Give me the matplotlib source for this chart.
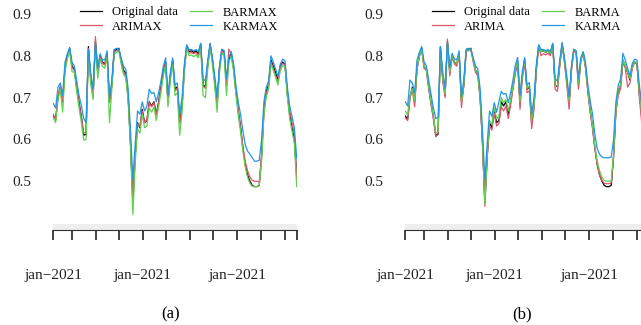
import matplotlib
matplotlib.use("Agg")
import matplotlib.pyplot as plt
from matplotlib.patches import Rectangle

plt.rcParams["font.family"] = ["Liberation Serif", "DejaVu Serif"]

# observed series (shared by both panels)
original = [
    0.656, 0.648, 0.700, 0.725, 0.690, 0.770, 0.800, 0.818, 0.775, 0.768,
    0.725, 0.688, 0.655, 0.610, 0.612, 0.822, 0.745, 0.705, 0.835, 0.760,
    0.800, 0.785, 0.780, 0.805, 0.690, 0.730, 0.812, 0.815, 0.818, 0.790,
    0.766, 0.758, 0.700, 0.590, 0.448, 0.560, 0.640, 0.628, 0.672, 0.640,
    0.645, 0.690, 0.680, 0.690, 0.660, 0.690, 0.725, 0.762, 0.785, 0.690,
    0.752, 0.790, 0.720, 0.726, 0.640, 0.680, 0.770, 0.825, 0.810, 0.812,
    0.808, 0.812, 0.805, 0.828, 0.730, 0.726, 0.780, 0.828, 0.790, 0.740,
    0.688, 0.770, 0.815, 0.810, 0.730, 0.790, 0.808, 0.775, 0.718, 0.670,
    0.630, 0.580, 0.540, 0.515, 0.500, 0.490, 0.487, 0.487, 0.490, 0.560,
    0.670, 0.715, 0.730, 0.790, 0.775, 0.760, 0.742, 0.775, 0.785, 0.780,
    0.710, 0.660, 0.630, 0.600, 0.510,
]

# panel (a) fits
arimax = [
    0.660, 0.645, 0.705, 0.728, 0.692, 0.772, 0.798, 0.815, 0.772, 0.765,
    0.722, 0.685, 0.652, 0.615, 0.618, 0.818, 0.742, 0.702, 0.846, 0.758,
    0.798, 0.782, 0.778, 0.802, 0.688, 0.728, 0.810, 0.812, 0.815, 0.786,
    0.762, 0.752, 0.695, 0.590, 0.458, 0.565, 0.638, 0.630, 0.668, 0.640,
    0.648, 0.688, 0.678, 0.688, 0.658, 0.688, 0.722, 0.758, 0.782, 0.688,
    0.748, 0.786, 0.716, 0.722, 0.638, 0.678, 0.768, 0.822, 0.806, 0.808,
    0.805, 0.808, 0.800, 0.822, 0.728, 0.722, 0.776, 0.824, 0.786, 0.736,
    0.685, 0.768, 0.812, 0.806, 0.728, 0.816, 0.805, 0.770, 0.715, 0.668,
    0.628, 0.585, 0.548, 0.525, 0.510, 0.502, 0.500, 0.500, 0.498, 0.560,
    0.668, 0.710, 0.726, 0.786, 0.770, 0.752, 0.738, 0.772, 0.782, 0.778,
    0.712, 0.668, 0.640, 0.612, 0.512,
]
barmax = [
    0.652, 0.640, 0.695, 0.720, 0.665, 0.762, 0.792, 0.812, 0.762, 0.760,
    0.715, 0.675, 0.640, 0.598, 0.600, 0.810, 0.732, 0.695, 0.828, 0.746,
    0.792, 0.775, 0.770, 0.798, 0.640, 0.720, 0.805, 0.808, 0.812, 0.780,
    0.755, 0.748, 0.690, 0.580, 0.420, 0.545, 0.625, 0.615, 0.660, 0.628,
    0.632, 0.675, 0.665, 0.678, 0.645, 0.678, 0.712, 0.752, 0.778, 0.678,
    0.740, 0.782, 0.705, 0.712, 0.610, 0.665, 0.760, 0.818, 0.800, 0.802,
    0.798, 0.802, 0.795, 0.820, 0.705, 0.700, 0.770, 0.820, 0.780, 0.725,
    0.665, 0.760, 0.806, 0.800, 0.705, 0.786, 0.798, 0.765, 0.708, 0.660,
    0.618, 0.572, 0.535, 0.510, 0.495, 0.488, 0.487, 0.487, 0.490, 0.548,
    0.660, 0.702, 0.720, 0.780, 0.765, 0.748, 0.730, 0.765, 0.776, 0.774,
    0.700, 0.650, 0.620, 0.590, 0.487,
]
karmax = [
    0.686, 0.675, 0.725, 0.735, 0.705, 0.785, 0.805, 0.820, 0.785, 0.775,
    0.740, 0.705, 0.680, 0.650, 0.640, 0.815, 0.760, 0.720, 0.830, 0.770,
    0.805, 0.790, 0.790, 0.812, 0.700, 0.740, 0.815, 0.818, 0.816, 0.795,
    0.775, 0.768, 0.720, 0.620, 0.505, 0.590, 0.668, 0.660, 0.690, 0.668,
    0.680, 0.720, 0.710, 0.712, 0.690, 0.712, 0.740, 0.775, 0.795, 0.705,
    0.760, 0.795, 0.730, 0.735, 0.660, 0.700, 0.780, 0.826, 0.815, 0.815,
    0.812, 0.815, 0.810, 0.830, 0.745, 0.740, 0.790, 0.830, 0.795, 0.750,
    0.700, 0.775, 0.816, 0.812, 0.745, 0.795, 0.810, 0.782, 0.730, 0.690,
    0.660, 0.620, 0.588, 0.572, 0.565, 0.556, 0.548, 0.548, 0.550, 0.600,
    0.690, 0.725, 0.740, 0.800, 0.785, 0.768, 0.750, 0.780, 0.792, 0.788,
    0.725, 0.680, 0.655, 0.628, 0.555,
]

# panel (b) fits
arima = [
    0.652, 0.645, 0.700, 0.718, 0.678, 0.765, 0.798, 0.816, 0.770, 0.765,
    0.720, 0.682, 0.648, 0.606, 0.612, 0.818, 0.738, 0.700, 0.840, 0.752,
    0.798, 0.780, 0.775, 0.802, 0.676, 0.728, 0.812, 0.812, 0.815, 0.786,
    0.760, 0.752, 0.695, 0.585, 0.440, 0.555, 0.632, 0.622, 0.662, 0.632,
    0.638, 0.678, 0.668, 0.680, 0.650, 0.682, 0.720, 0.758, 0.782, 0.672,
    0.745, 0.786, 0.712, 0.716, 0.626, 0.672, 0.766, 0.822, 0.800, 0.805,
    0.802, 0.806, 0.800, 0.826, 0.720, 0.715, 0.775, 0.826, 0.784, 0.730,
    0.672, 0.765, 0.812, 0.806, 0.720, 0.792, 0.804, 0.770, 0.712, 0.664,
    0.625, 0.578, 0.540, 0.515, 0.502, 0.495, 0.494, 0.494, 0.496, 0.560,
    0.665, 0.705, 0.722, 0.785, 0.770, 0.725, 0.735, 0.770, 0.785, 0.780,
    0.700, 0.640, 0.620, 0.600, 0.505,
]
barma = [
    0.668, 0.658, 0.705, 0.722, 0.692, 0.772, 0.800, 0.818, 0.775, 0.768,
    0.726, 0.688, 0.656, 0.615, 0.618, 0.820, 0.745, 0.708, 0.832, 0.762,
    0.800, 0.786, 0.780, 0.805, 0.690, 0.732, 0.812, 0.814, 0.816, 0.790,
    0.766, 0.758, 0.700, 0.592, 0.445, 0.565, 0.645, 0.635, 0.676, 0.650,
    0.655, 0.700, 0.688, 0.695, 0.668, 0.694, 0.728, 0.765, 0.788, 0.690,
    0.752, 0.792, 0.722, 0.728, 0.645, 0.684, 0.772, 0.826, 0.810, 0.812,
    0.808, 0.812, 0.806, 0.828, 0.730, 0.728, 0.780, 0.828, 0.790, 0.740,
    0.690, 0.770, 0.815, 0.810, 0.732, 0.790, 0.808, 0.776, 0.720, 0.672,
    0.632, 0.585, 0.548, 0.525, 0.510, 0.502, 0.500, 0.500, 0.502, 0.565,
    0.672, 0.716, 0.732, 0.790, 0.776, 0.760, 0.745, 0.776, 0.786, 0.782,
    0.712, 0.662, 0.632, 0.602, 0.512,
]
karma = [
    0.690, 0.680, 0.742, 0.735, 0.712, 0.790, 0.808, 0.822, 0.786, 0.776,
    0.742, 0.708, 0.675, 0.650, 0.652, 0.822, 0.762, 0.722, 0.832, 0.772,
    0.806, 0.792, 0.790, 0.812, 0.702, 0.742, 0.816, 0.818, 0.816, 0.796,
    0.776, 0.768, 0.720, 0.618, 0.505, 0.590, 0.668, 0.655, 0.688, 0.665,
    0.690, 0.715, 0.708, 0.710, 0.688, 0.712, 0.742, 0.778, 0.796, 0.705,
    0.762, 0.796, 0.730, 0.736, 0.660, 0.700, 0.780, 0.826, 0.815, 0.815,
    0.812, 0.815, 0.810, 0.830, 0.745, 0.740, 0.790, 0.832, 0.796, 0.752,
    0.702, 0.776, 0.816, 0.812, 0.746, 0.796, 0.810, 0.784, 0.732, 0.692,
    0.660, 0.612, 0.578, 0.565, 0.558, 0.556, 0.556, 0.556, 0.558, 0.600,
    0.690, 0.730, 0.745, 0.806, 0.790, 0.770, 0.752, 0.782, 0.792, 0.790,
    0.730, 0.685, 0.660, 0.630, 0.560,
]

tick_pos = [0, 7.9, 18.1, 28.1, 38.2, 48.2, 58.4, 68.4, 78.7, 88.8, 99.0, 104]
tick_labels = ["jan\u22122021", "", "", "", "jan\u22122021", "", "", "",
               "jan\u22122021", "", "", ""]
y_ticks = [0.5, 0.6, 0.7, 0.8, 0.9]

colors = ["black", "#DF536B", "#61D04F", "#2297E6"]

W, H = 641, 325
fig = plt.figure(figsize=(W / 100, H / 100), dpi=100)


def panel(left_px, series, names, tag):
    ax = fig.add_axes([left_px / W, 1 - 230 / H, 243.4 / W, 225 / H])
    x = list(range(len(original)))
    for s, c, n in zip(series, colors, names):
        ax.plot(x, s, color=c, lw=0.9, label=n)
    ax.set_xlim(0, len(original) - 1)
    ax.set_ylim(0.3833, 0.9215)
    for side in ["top", "right", "left"]:
        ax.spines[side].set_visible(False)
    ax.spines["bottom"].set_color("#333333")
    ax.spines["bottom"].set_linewidth(0.8)
    ax.add_patch(Rectangle((0, 0), 1, 6 / 225, transform=ax.transAxes,
                           color="#eeeeee", lw=0, zorder=0))
    ax.set_yticks(y_ticks)
    ax.set_yticklabels([f"{v:.1f}" for v in y_ticks])
    ax.tick_params(axis="y", length=0, pad=16, labelsize=11, labelcolor="#222222")
    ax.set_xticks(tick_pos)
    ax.set_xticklabels(tick_labels)
    ax.tick_params(axis="x", direction="out", length=7.2, width=1.3,
                   color="#333333", pad=21, labelsize=11, labelcolor="#222222")
    ax.legend(loc="upper left", bbox_to_anchor=((left_px + 26.5) / W, 1 - 6.5 / H),
              bbox_transform=fig.transFigure, frameon=False, ncol=2,
              borderpad=0, borderaxespad=0, fontsize=9, handlelength=1.75,
              handletextpad=0.85, columnspacing=0.95, labelspacing=0.17)
    fig.text((left_px + 117) / W, 1 - 314 / H, tag, ha="center", va="center",
             fontsize=12)
    return ax


panel(53.3, [original, arimax, barmax, karmax],
      ["Original data", "ARIMAX", "BARMAX", "KARMAX"], "(a)")
panel(405.3, [original, arima, barma, karma],
      ["Original data", "ARIMA", "BARMA", "KARMA"], "(b)")

fig.savefig("out.png", dpi=100)
